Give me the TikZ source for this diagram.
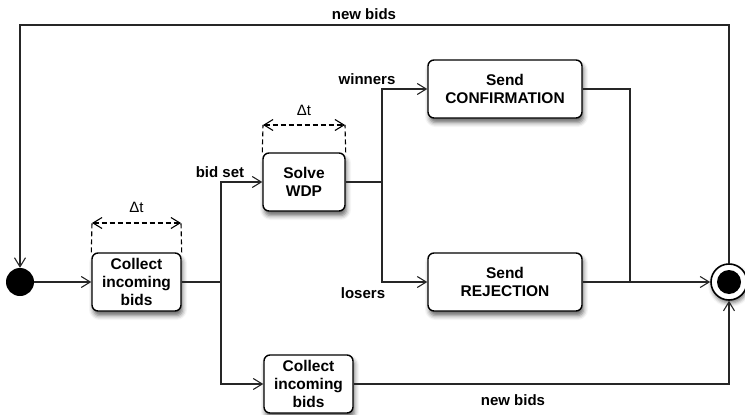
\documentclass[tikz,border=0pt]{standalone}
\usepackage{fontspec}
\setmainfont{Liberation Sans}
\usetikzlibrary{arrows.meta,shadows.blur}
\tikzset{
  box/.style={draw=black, line width=1.4pt, rounded corners=6pt, fill=white,
    align=center, font=\fontsize{15.5}{18}\selectfont\bfseries, inner sep=0pt,
    blur shadow={shadow xshift=1.5pt, shadow yshift=-4.5pt, shadow blur radius=4.5pt, shadow opacity=60}},
  conn/.style={line width=1.1pt, draw=black!85},
  arr/.style={conn, -{Straight Barb[length=9pt,width=11pt,line width=1.1pt]}},
  dim/.style={line width=1.1pt, dashed, dash pattern=on 5pt off 3pt},
  dimarr/.style={line width=1.1pt, dash pattern=on 5pt off 3pt,
    {Straight Barb[length=9pt,width=11pt,line width=1.1pt]}-{Straight Barb[length=9pt,width=11pt,line width=1.1pt]}},
  lbl/.style={font=\fontsize{15}{18}\selectfont\bfseries, inner sep=0pt},
  dt/.style={font=\fontsize{15}{18}\selectfont, inner sep=0pt},
}
\begin{document}
\begin{tikzpicture}[x=1pt,y=-1pt]
\useasboundingbox (0,0) rectangle (745,415);
% nodes
\node[circle, fill=black, minimum size=28pt, inner sep=0pt] (init) at (20,282) {};
\node[circle, draw=black, line width=1.6pt, fill=white, minimum size=36pt, inner sep=0pt,
  blur shadow={shadow xshift=1pt, shadow yshift=-3pt, shadow blur radius=4pt, shadow opacity=55}] (final) at (729,282) {};
\node[circle, fill=black, minimum size=24pt, inner sep=0pt] (finalin) at (729,282) {};
\node[box, minimum width=89pt, minimum height=58pt] (c1) at (136.5,282) {Collect\\incoming\\bids};
\node[box, minimum width=82pt, minimum height=58pt] (solve) at (304,182) {Solve\\WDP};
\node[box, minimum width=154pt, minimum height=58pt] (conf) at (505,89) {Send\\CONFIRMATION};
\node[box, minimum width=154pt, minimum height=58pt] (rej) at (505,282) {Send\\REJECTION};
\node[box, minimum width=89pt, minimum height=58pt] (c2) at (308.5,384) {Collect\\incoming\\bids};
% junction coordinates
\coordinate (j1) at (221,282);
\coordinate (j2) at (382,182);
\coordinate (j3) at (630,282);
\coordinate (tl) at (20,25);
% connectors
\draw[arr] (init) -- (c1);
\draw[conn] (c1.east) -- (j1);
\draw[arr] (j1) |- (solve.west);
\draw[arr] (j1) |- (c2.west);
\draw[conn] (solve.east) -- (j2);
\draw[arr] (j2) |- (conf.west);
\draw[arr] (j2) |- (rej.west);
\draw[conn] (conf.east) -| (j3);
\draw[arr] (rej.east) -- (final.west);
\draw[arr] (c2.east) -| (final.south);
\draw[arr] (final.north) |- (tl) -- (init.north);
% delta t brackets
\coordinate (d1l) at (92,223);
\coordinate (d1r) at (181,223);
\draw[dim] (c1.north west) -- (d1l);
\draw[dim] (c1.north east) -- (d1r);
\draw[dimarr] (d1l) -- (d1r);
\node[dt] (dt1) at (136.5,207) {Δt};
\coordinate (d2l) at (263,125);
\coordinate (d2r) at (345,125);
\draw[dim] (solve.north west) -- (d2l);
\draw[dim] (solve.north east) -- (d2r);
\draw[dimarr] (d2l) -- (d2r);
\node[dt] (dt2) at (304,110) {Δt};
% labels
\node[lbl] (nb1) at (364,14) {new bids};
\node[lbl] (bs) at (220,172) {bid set};
\node[lbl] (win) at (367,79) {winners};
\node[lbl] (los) at (363,293) {losers};
\node[lbl] (nb2) at (513,400) {new bids};
\end{tikzpicture}
\end{document}
